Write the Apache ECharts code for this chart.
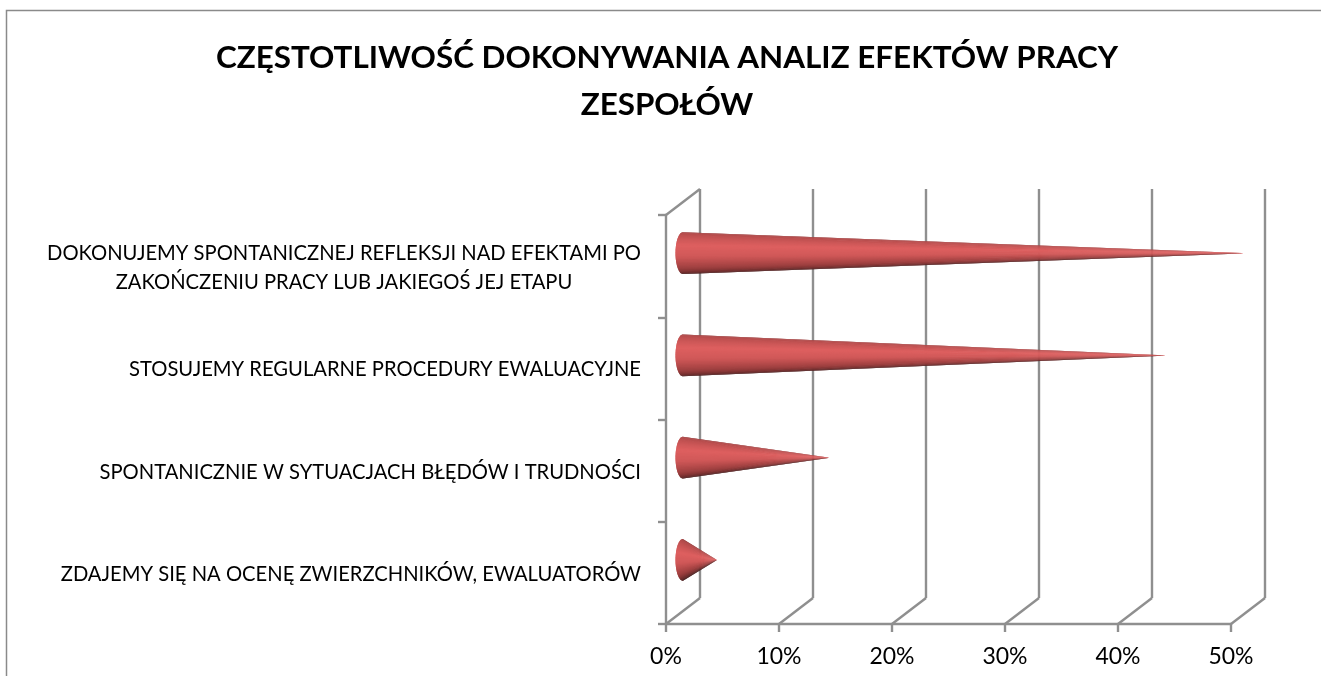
<!DOCTYPE html>
<html>
<head>
<meta charset="utf-8">
<style>html,body{margin:0;padding:0;background:#fff}#c{width:1321px;height:676px}</style>
<script src="https://cdn.jsdelivr.net/npm/echarts@6/dist/echarts.min.js"></script>
</head>
<body>
<div id="c"></div>
<script>
const titleLines = ['CZĘSTOTLIWOŚĆ DOKONYWANIA ANALIZ EFEKTÓW PRACY', 'ZESPOŁÓW'];
const categories = [
  'DOKONUJEMY SPONTANICZNEJ REFLEKSJI NAD EFEKTAMI PO\nZAKOŃCZENIU PRACY LUB JAKIEGOŚ JEJ ETAPU',
  'STOSUJEMY REGULARNE PROCEDURY EWALUACYJNE',
  'SPONTANICZNIE W SYTUACJACH BŁĘDÓW I TRUDNOŚCI',
  'ZDAJEMY SIĘ NA OCENĘ ZWIERZCHNIKÓW, EWALUATORÓW'
];
const values = [50, 43, 13, 3];
const xTicks = [0, 10, 20, 30, 40, 50];

const GREY = '#8f8f8f';
const LINE_W = 2.4;
const DEPTH_X = 34, DEPTH_Y = -26;
const SHADE = [
  [0.00, [150, 62, 62]], [0.12, [182, 76, 76]], [0.38, [222, 96, 96]],
  [0.55, [208, 88, 88]], [0.78, [150, 60, 60]], [0.92, [96, 40, 40]], [1.00, [62, 28, 28]]
];
function shade(t) {
  for (let i = 1; i < SHADE.length; i++) {
    if (t <= SHADE[i][0]) {
      const a = SHADE[i - 1], b = SHADE[i], k = (t - a[0]) / (b[0] - a[0]);
      const c = a[1].map((v, j) => Math.round(v + (b[1][j] - v) * k));
      return 'rgb(' + c.join(',') + ')';
    }
  }
  return 'rgb(62,28,28)';
}

function renderCone(params, api) {
  const v = api.value(0), cat = api.value(1);
  const base = api.coord([0, cat]), end = api.coord([v, cat]);
  const cx = base[0] + DEPTH_X / 2, cy = base[1] + DEPTH_Y / 2;
  const tip = [end[0] + DEPTH_X / 2, cy];
  const ry = api.size([0, 1])[1] * 0.205, rx = 7.5;
  const N = 42, children = [];
  const pt = k => {
    const a = -Math.PI / 2 + Math.PI * k / N;
    return [cx - rx * Math.cos(a), cy + ry * Math.sin(a)];
  };
  for (let i = 0; i < N; i++) {
    const pts = [pt(i), pt(i + 1)];
    if (i + 2 <= N) pts.push(pt(i + 2));
    pts.push(tip);
    children.push({
      type: 'polygon',
      shape: { points: pts },
      style: { fill: shade((i + 0.5) / N) }
    });
  }
  return { type: 'group', children };
}

function renderWall(params, api) {
  const x = api.value(0);
  const half = api.size([0, 1])[1] / 2;
  const bottom = api.coord([x, categories.length - 1]);
  bottom[1] += half;
  const top = api.coord([x, 0]);
  top[1] -= half;
  const line = (x1, y1, x2, y2) => ({
    type: 'line', shape: { x1, y1, x2, y2 },
    style: { stroke: GREY, lineWidth: LINE_W, fill: null }
  });
  const children = [
    line(bottom[0], bottom[1], bottom[0] + DEPTH_X, bottom[1] + DEPTH_Y),
    line(bottom[0] + DEPTH_X, bottom[1] + DEPTH_Y, top[0] + DEPTH_X, top[1] + DEPTH_Y)
  ];
  if (x === 0) children.push(line(top[0], top[1], top[0] + DEPTH_X, top[1] + DEPTH_Y));
  return { type: 'group', children };
}

const labelFont = { fontFamily: 'Lato', fontSize: 20.2, lineHeight: 29, color: '#000' };
const chart = echarts.init(document.getElementById('c'), null, { renderer: 'canvas' });
chart.setOption({
  animation: false,
  backgroundColor: '#fff',
  title: {
    text: titleLines.join('\n'),
    left: 662, top: 29, textAlign: 'center',
    textStyle: { fontFamily: 'Lato', fontWeight: 'bold', fontSize: 31.4, lineHeight: 47, color: '#000' }
  },
  grid: { left: 666, right: 90, top: 215, bottom: 52 },
  xAxis: {
    type: 'value', min: 0, max: 50, interval: 10,
    axisLine: { show: true, lineStyle: { color: GREY, width: LINE_W } },
    axisTick: { show: true, length: 8, lineStyle: { color: GREY, width: LINE_W } },
    splitLine: { show: false },
    axisLabel: { formatter: '{value}%', fontFamily: 'Lato', fontSize: 23, color: '#000', margin: 21 }
  },
  yAxis: {
    type: 'category', data: categories, inverse: true,
    axisLine: { show: true, lineStyle: { color: GREY, width: LINE_W } },
    axisTick: { show: true, length: 8, alignWithLabel: false, lineStyle: { color: GREY, width: LINE_W } },
    axisLabel: Object.assign({}, labelFont, {
      margin: 25, align: 'right', padding: [3, 0, 0, 0],
      formatter: v => v.split('\n').map(l => '{c|' + l + '}').join('\n'),
      rich: { c: Object.assign({ align: 'center' }, labelFont) }
    })
  },
  series: [
    { type: 'custom', name: 'wall', coordinateSystem: 'cartesian2d', clip: false, z: 1, silent: true,
      renderItem: renderWall, data: xTicks.map(t => [t, 0]), encode: { x: 0, y: 1 } },
    { type: 'custom', name: 'values', coordinateSystem: 'cartesian2d', clip: false, z: 3, silent: true,
      renderItem: renderCone, data: values.map((v, i) => [v, i]), encode: { x: 0, y: 1 } }
  ],
  graphic: [
    { type: 'polyline', shape: { points: [[6.5, 676], [6.5, 10.5], [1321, 10.5]] }, style: { stroke: '#8a8a8a', lineWidth: 1.5, fill: null }, silent: true }
  ]
});
</script>
</body>
</html>
